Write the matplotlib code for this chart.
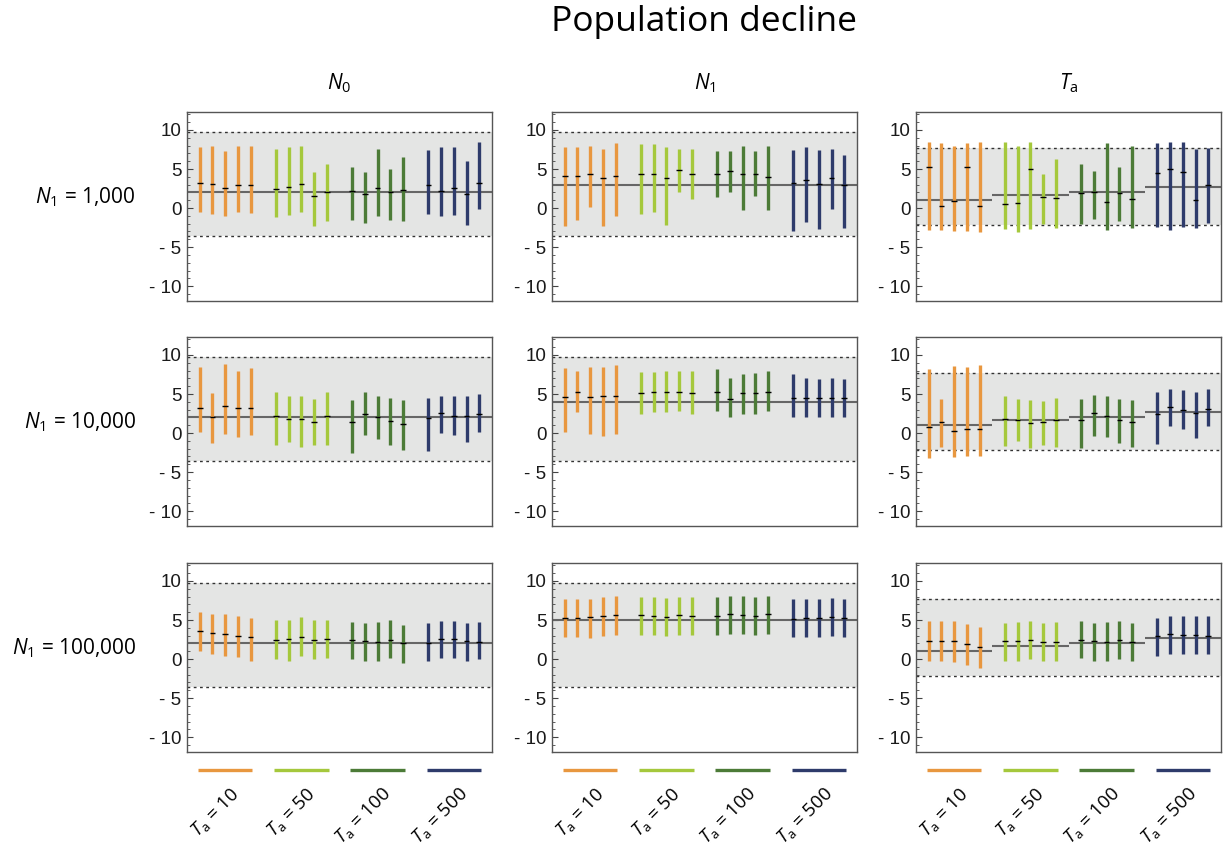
import numpy as np
import matplotlib
matplotlib.use('Agg')
import matplotlib.pyplot as plt
import matplotlib.transforms as mtransforms
from matplotlib.ticker import MultipleLocator, FuncFormatter

plt.rcParams['font.family'] = ['Open Sans', 'DejaVu Sans']
plt.rcParams['mathtext.fontset'] = 'custom'
plt.rcParams['mathtext.rm'] = 'Open Sans'
plt.rcParams['mathtext.it'] = 'Open Sans:italic'

# groups / colours
ta_labels = ['10', '50', '100', '500']
colors = ['#e8973f', '#a5c83c', '#4c7b37', '#2e3b6b']
col_titles = [r'$N_0$', r'$N_1$', r'$T_\mathrm{a}$']
row_titles = [r'$N_1$ = 1,000', r'$N_1$ = 10,000', r'$N_1$ = 100,000']

# --- N0 column ---
n0_1k_low = [-0.5, -0.8, -1.0, -0.5, -0.6, -1.2, -0.9, -0.5, -2.3, -1.7, -1.5, -1.9, -1.0, -1.5, -1.7, -0.8, -1.0, -0.9, -2.2, -0.1]
n0_1k_high = [7.8, 7.9, 7.3, 7.9, 8.0, 7.5, 7.8, 8.0, 4.6, 5.6, 5.2, 4.6, 7.6, 5.0, 6.5, 7.4, 7.8, 7.8, 6.0, 8.5]
n0_1k_med = [3.2, 3.1, 2.6, 3.0, 2.9, 2.5, 2.7, 3.1, 1.6, 2.0, 2.2, 1.8, 2.6, 2.1, 2.35, 2.9, 2.2, 2.6, 1.8, 3.2]

n0_10k_low = [0.1, -1.3, -0.1, -0.5, -0.25, -1.5, -1.15, -1.8, -1.5, -1.5, -2.55, -0.25, -0.75, -1.5, -2.2, -2.3, 0.0, -0.25, -1.15, 0.1]
n0_10k_high = [8.5, 5.1, 8.8, 7.9, 8.3, 5.2, 4.7, 4.7, 4.4, 5.2, 4.2, 5.2, 4.7, 4.55, 4.2, 4.55, 4.8, 4.7, 4.8, 4.95]
n0_10k_med = [3.2, 2.1, 3.5, 3.2, 3.2, 2.2, 1.8, 1.8, 1.45, 2.2, 1.45, 2.5, 2.1, 1.6, 1.2, 1.95, 2.6, 2.2, 2.2, 2.5]

n0_100k_low = [1.0, 0.7, 0.35, 0.2, -0.2, 0.0, -0.2, 0.35, 0.0, 0.1, 0.0, -0.3, -0.3, 0.1, -0.55, -0.2, 0.1, 0.1, -0.2, 0.0]
n0_100k_high = [6.05, 5.8, 5.8, 5.55, 5.3, 5.05, 5.05, 5.4, 5.05, 5.05, 4.8, 4.65, 4.8, 5.05, 4.4, 4.65, 4.9, 4.9, 4.65, 4.8]
n0_100k_med = [3.6, 3.3, 3.2, 2.95, 2.8, 2.45, 2.55, 2.8, 2.45, 2.55, 2.45, 2.3, 2.2, 2.45, 2.05, 2.05, 2.55, 2.55, 2.3, 2.2]

# --- N1 column ---
n1_1k_low = [-2.3, -1.5, 0.1, -2.3, -1.0, -0.8, -0.5, -2.2, 2.1, 1.2, 1.4, 2.0, -0.3, 1.6, -0.3, -2.9, -1.8, -2.7, -0.1, -2.6]
n1_1k_high = [7.8, 7.8, 8.0, 7.6, 8.3, 8.2, 8.2, 7.8, 7.6, 7.5, 7.3, 7.3, 8.0, 7.3, 8.0, 7.4, 7.8, 7.4, 7.5, 6.8]
n1_1k_med = [4.1, 4.1, 4.3, 3.9, 4.1, 4.3, 4.3, 3.8, 4.9, 4.3, 4.3, 4.7, 4.3, 4.3, 4.0, 3.2, 3.6, 3.1, 3.8, 2.9]

n1_10k_low = [0.1, 2.65, -0.1, -0.4, -0.1, 2.4, 2.65, 2.65, 2.8, 2.5, 2.8, 2.0, 2.5, 2.5, 2.8, 2.0, 2.1, 2.0, 2.0, 2.0]
n1_10k_high = [8.3, 7.9, 8.5, 8.5, 8.7, 7.8, 7.8, 8.0, 7.9, 7.9, 8.2, 7.0, 7.5, 7.65, 8.0, 7.5, 7.0, 6.9, 7.1, 6.9]
n1_10k_med = [4.65, 5.2, 4.65, 4.8, 4.8, 5.1, 5.3, 5.3, 5.3, 5.1, 5.3, 4.4, 5.1, 5.1, 5.3, 4.5, 4.5, 4.5, 4.5, 4.5]

n1_100k_low = [2.85, 2.85, 2.75, 3.0, 3.1, 3.1, 3.1, 3.0, 3.1, 3.1, 3.1, 3.25, 3.25, 3.1, 3.25, 2.85, 2.85, 2.85, 3.0, 2.85]
n1_100k_high = [7.75, 7.75, 7.75, 8.0, 8.1, 8.0, 8.0, 7.85, 8.0, 8.0, 8.0, 8.1, 8.1, 8.0, 8.1, 7.75, 7.75, 7.75, 7.85, 7.75]
n1_100k_med = [5.25, 5.25, 5.4, 5.5, 5.65, 5.65, 5.5, 5.4, 5.65, 5.5, 5.5, 5.8, 5.65, 5.5, 5.8, 5.1, 5.25, 5.25, 5.4, 5.25]

# --- Ta column ---
ta_1k_low = [-2.8, -2.8, -2.9, -2.9, -3.1, -2.7, -3.1, -2.7, -2.0, -2.55, -2.0, -1.4, -2.8, -1.7, -2.55, -2.4, -2.8, -2.4, -2.55, -1.9]
ta_1k_high = [8.4, 8.3, 7.9, 8.3, 8.5, 8.5, 8.0, 8.4, 4.4, 6.3, 5.7, 4.7, 8.3, 5.2, 8.0, 8.3, 8.4, 8.4, 7.5, 7.75]
ta_1k_med = [5.3, 0.3, 0.9, 5.3, 0.3, 0.55, 0.7, 5.0, 1.45, 1.3, 1.95, 2.1, 0.8, 1.95, 1.2, 4.5, 5.0, 4.6, 1.05, 3.0]

ta_10k_low = [-3.2, -1.8, -3.05, -2.9, -2.9, -1.65, -1.0, -1.9, -1.5, -1.8, -1.9, -0.4, -0.5, -1.3, -1.8, -1.4, 0.9, 0.5, -0.65, 0.9]
ta_10k_high = [8.25, 4.3, 8.6, 8.5, 8.75, 4.8, 4.4, 4.2, 4.05, 4.55, 4.4, 4.9, 4.8, 4.4, 4.2, 5.2, 5.7, 5.45, 5.2, 5.7]
ta_10k_med = [0.8, 1.45, 0.3, 0.55, 0.55, 1.8, 1.7, 1.3, 1.45, 1.7, 1.7, 2.6, 2.2, 1.7, 1.45, 2.45, 3.35, 3.0, 2.6, 3.1]

ta_100k_low = [-0.2, -0.2, -0.4, -0.7, -1.2, -0.3, -0.3, 0.0, -0.3, -0.2, 0.1, -0.2, -0.2, 0.0, -0.3, 0.45, 0.7, 0.7, 0.7, 0.7]
ta_100k_high = [4.9, 4.9, 4.9, 4.5, 4.15, 4.65, 4.8, 4.9, 4.65, 4.8, 4.9, 4.65, 4.8, 4.9, 4.65, 5.3, 5.55, 5.55, 5.55, 5.55]
ta_100k_med = [2.3, 2.3, 2.3, 1.9, 1.55, 2.3, 2.3, 2.45, 2.2, 2.2, 2.45, 2.3, 2.2, 2.45, 2.2, 2.95, 3.2, 3.1, 3.1, 2.95]

# true values (reference lines) and prior bands
n0_true = [2.0, 2.0, 2.0]
n1_true = [3.0, 4.0, 5.0]
ta_true = [1.0, 1.7, 2.0, 2.7]
n_band = (-3.6, 9.7)
ta_band = (-2.2, 7.65)

panels = [
    [(n0_1k_low, n0_1k_high, n0_1k_med), (n1_1k_low, n1_1k_high, n1_1k_med), (ta_1k_low, ta_1k_high, ta_1k_med)],
    [(n0_10k_low, n0_10k_high, n0_10k_med), (n1_10k_low, n1_10k_high, n1_10k_med), (ta_10k_low, ta_10k_high, ta_10k_med)],
    [(n0_100k_low, n0_100k_high, n0_100k_med), (n1_100k_low, n1_100k_high, n1_100k_med), (ta_100k_low, ta_100k_high, ta_100k_med)],
]

W, H = 1224, 847
fig = plt.figure(figsize=(W / 100, H / 100), dpi=100)

col_left = [187, 552, 916]
row_top = [112, 337, 563]
ax_w, ax_h = 305, 189

# 4 groups of 5 replicates, one empty slot between groups
xpos = np.concatenate([np.arange(1, 6) + 6 * g for g in range(4)])
bar_colors = np.repeat(colors, 5)


def neg_fmt(v, pos):
    if v < 0:
        return '- %d' % abs(v)
    return '%d' % v


for r in range(3):
    for c in range(3):
        left = col_left[c] / W
        bottom = 1 - (row_top[r] + ax_h) / H
        ax = fig.add_axes([left, bottom, ax_w / W, ax_h / H])
        low, high, med = panels[r][c]

        band = ta_band if c == 2 else n_band
        ax.axhspan(band[0], band[1], color='#e4e5e4', lw=0, zorder=0)
        for b in band:
            ax.axhline(b, color='#333333', lw=1.0, ls=(0, (2, 2.5)), zorder=1)

        if c == 0:
            ax.axhline(n0_true[r], color='#666666', lw=1.5, zorder=2)
        elif c == 1:
            ax.axhline(n1_true[r], color='#666666', lw=1.5, zorder=2)
        else:
            for g in range(4):
                ax.hlines(ta_true[g], 6 * g, 6 * g + 6, color='#666666', lw=1.5, zorder=2)

        ax.vlines(xpos, low, high, colors=bar_colors, lw=2.4, zorder=3)
        ax.hlines(med, xpos - 0.22, xpos + 0.22, colors='black', lw=1.0, zorder=4)

        ax.set_xlim(0, 24)
        ax.set_ylim(-11.9, 12.3)
        ax.set_xticks([])
        ax.yaxis.set_major_locator(MultipleLocator(5))
        ax.yaxis.set_minor_locator(MultipleLocator(1))
        ax.yaxis.set_major_formatter(FuncFormatter(neg_fmt))
        ax.tick_params(axis='y', which='major', direction='in', length=4, width=0.8,
                       color='#444444', labelsize=13.5, labelcolor='#1a1a1a',
                       labelfontfamily='Liberation Sans', pad=4)
        ax.tick_params(axis='y', which='minor', direction='in', length=2, width=0.6,
                       color='#444444')
        for s in ax.spines.values():
            s.set_color('#555555')
            s.set_linewidth(1.0)

        if r == 0:
            ax.set_title(col_titles[c], fontsize=15, pad=16)

        if r == 2:
            trans = mtransforms.blended_transform_factory(ax.transData, ax.transAxes)
            for g in range(4):
                xs = xpos[5 * g:5 * g + 5]
                ax.plot([xs[0] - 0.15, xs[-1] + 0.15], [-0.095, -0.095], color=colors[g],
                        lw=2.4, transform=trans, clip_on=False, solid_capstyle='butt')
                ax.text(xs[2] + 0.3, -0.17, r'$T_\mathrm{a}$ = ' + ta_labels[g], transform=trans,
                        ha='right', va='top', rotation=45, rotation_mode='anchor', fontsize=13.5)

    fig.text(136 / W, 1 - (row_top[r] + ax_h / 2 - 9) / H, row_titles[r],
             ha='right', va='center', fontsize=15)

fig.text(704 / W, 1 - 22 / H, 'Population decline', ha='center', va='center', fontsize=25.5)

fig.savefig('out.png', dpi=100)
